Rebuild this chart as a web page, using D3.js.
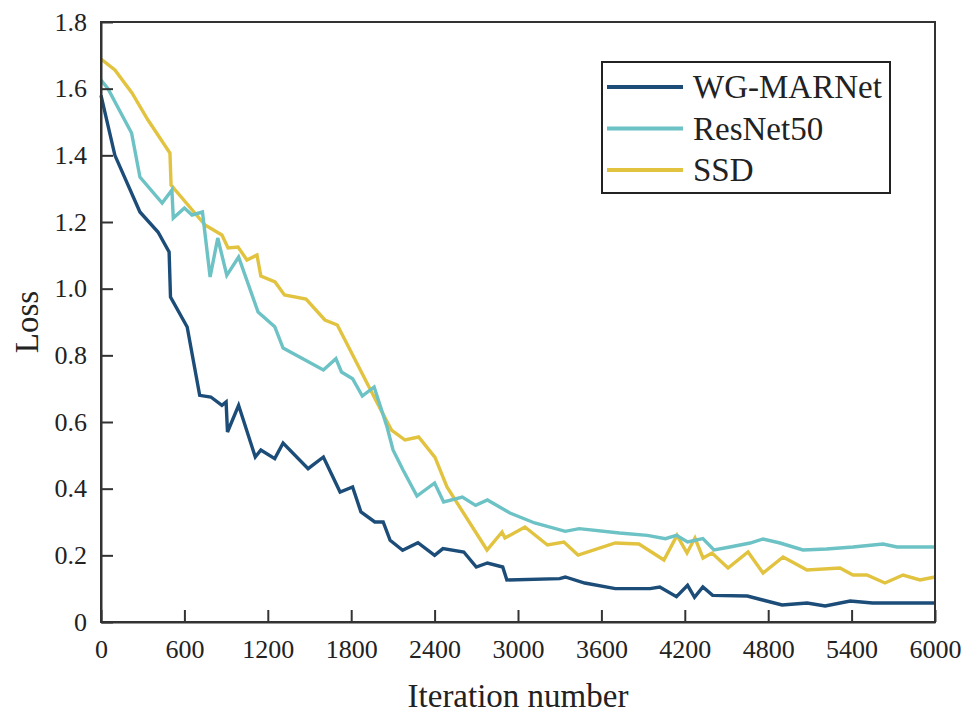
<!DOCTYPE html>
<html>
<head>
<meta charset="utf-8">
<script src="https://cdn.jsdelivr.net/npm/d3@7/dist/d3.min.js"></script>
<style>
  body { margin: 0; background: #fff; }
  text { font-family: "Liberation Serif", "Times New Roman", serif; fill: #222; }
</style>
</head>
<body>
<div id="chart"></div>
<script>
// loss curves
var wgIter = [0, 100, 280, 410, 490, 500, 620, 710, 790, 870, 900, 910, 990, 1110, 1150, 1250, 1310, 1490, 1600, 1720, 1810, 1870, 1970, 2030, 2080, 2170, 2280, 2400, 2460, 2610, 2700, 2780, 2890, 2920, 3300, 3340, 3480, 3700, 3950, 4020, 4140, 4220, 4270, 4330, 4400, 4650, 4760, 4900, 5080, 5210, 5390, 5550, 6000];
var wgLoss = [1.58, 1.40, 1.23, 1.17, 1.11, 0.975, 0.885, 0.68, 0.675, 0.65, 0.66, 0.57, 0.65, 0.495, 0.516, 0.49, 0.537, 0.46, 0.495, 0.39, 0.405, 0.33, 0.30, 0.30, 0.245, 0.215, 0.238, 0.20, 0.22, 0.21, 0.165, 0.177, 0.165, 0.126, 0.13, 0.135, 0.117, 0.10, 0.10, 0.105, 0.076, 0.11, 0.074, 0.105, 0.08, 0.078, 0.066, 0.051, 0.057, 0.048, 0.063, 0.057, 0.057];

var resIter = [0, 50, 120, 220, 280, 440, 510, 520, 600, 655, 730, 785, 840, 905, 990, 1130, 1250, 1310, 1600, 1690, 1730, 1810, 1880, 1965, 2058, 2101, 2173, 2273, 2400, 2465, 2600, 2695, 2780, 2942, 3120, 3340, 3440, 3730, 3930, 4060, 4140, 4220, 4330, 4410, 4525, 4670, 4763, 4885, 5050, 5220, 5410, 5626, 5726, 6000];
var resLoss = [1.626, 1.60, 1.545, 1.467, 1.335, 1.257, 1.296, 1.212, 1.242, 1.221, 1.23, 1.035, 1.152, 1.04, 1.095, 0.93, 0.886, 0.822, 0.756, 0.79, 0.75, 0.73, 0.678, 0.705, 0.585, 0.516, 0.456, 0.378, 0.417, 0.36, 0.375, 0.35, 0.366, 0.327, 0.297, 0.272, 0.28, 0.267, 0.26, 0.25, 0.26, 0.24, 0.25, 0.216, 0.225, 0.237, 0.249, 0.237, 0.216, 0.219, 0.225, 0.234, 0.225, 0.225];

var ssdIter = [0, 100, 223, 338, 496, 504, 626, 748, 870, 914, 986, 1050, 1122, 1150, 1252, 1320, 1475, 1611, 1700, 1770, 1990, 2090, 2187, 2285, 2403, 2489, 2777, 2885, 2906, 3050, 3212, 3330, 3432, 3700, 3870, 4050, 4144, 4216, 4273, 4331, 4396, 4511, 4655, 4763, 4907, 5079, 5316, 5410, 5510, 5640, 5770, 5892, 6000];
var ssdLoss = [1.689, 1.656, 1.587, 1.506, 1.407, 1.311, 1.251, 1.191, 1.161, 1.122, 1.125, 1.086, 1.101, 1.038, 1.02, 0.981, 0.969, 0.906, 0.891, 0.834, 0.655, 0.576, 0.546, 0.555, 0.494, 0.405, 0.216, 0.27, 0.252, 0.285, 0.231, 0.24, 0.201, 0.237, 0.234, 0.186, 0.26, 0.207, 0.252, 0.192, 0.207, 0.162, 0.21, 0.147, 0.195, 0.156, 0.162, 0.141, 0.141, 0.117, 0.141, 0.126, 0.135];

var seriesNames = ["WG-MARNet", "ResNet50", "SSD"];
var seriesColors = ["#1c4c78", "#6cc2c4", "#e2c340"];
var xTicks = [0, 600, 1200, 1800, 2400, 3000, 3600, 4200, 4800, 5400, 6000];
var yTicks = [0, 0.2, 0.4, 0.6, 0.8, 1.0, 1.2, 1.4, 1.6, 1.8];

var width = 979, height = 715;
// plot box edges (not named "top" - that clashes with window.top)
var plotLeft = 101, plotRight = 935, plotTop = 22, plotBottom = 622;

var svg = d3.select("#chart").append("svg")
  .attr("width", width)
  .attr("height", height);

var x = d3.scaleLinear().domain([0, 6000]).range([plotLeft, plotRight]);
var y = d3.scaleLinear().domain([0, 1.8]).range([plotBottom, plotTop]);

var series = [
  {name: seriesNames[0], color: seriesColors[0], pts: d3.zip(wgIter, wgLoss)},
  {name: seriesNames[1], color: seriesColors[1], pts: d3.zip(resIter, resLoss)},
  {name: seriesNames[2], color: seriesColors[2], pts: d3.zip(ssdIter, ssdLoss)}
];

var line = d3.line()
  .x(function(d) { return x(d[0]); })
  .y(function(d) { return y(d[1]); });

// draw lines, SSD under the others like in the figure
svg.selectAll("path.series")
  .data([series[2], series[1], series[0]])
  .enter().append("path")
  .attr("class", "series")
  .attr("d", function(d) { return line(d.pts); })
  .attr("fill", "none")
  .attr("stroke", function(d) { return d.color; })
  .attr("stroke-width", 3.4)
  .attr("stroke-linejoin", "miter");

// frame
svg.append("rect")
  .attr("x", plotLeft).attr("y", plotTop)
  .attr("width", plotRight - plotLeft).attr("height", plotBottom - plotTop)
  .attr("fill", "none")
  .attr("stroke", "#333")
  .attr("stroke-width", 2);

// axes, ticks pointing inward
var xAxis = svg.append("g")
  .attr("transform", "translate(0," + plotBottom + ")")
  .call(d3.axisBottom(x).tickValues(xTicks).tickFormat(d3.format("d")).tickSizeInner(-12).tickSizeOuter(0).tickPadding(18));
xAxis.select(".domain").attr("stroke", "#333").attr("stroke-width", 2);
xAxis.selectAll(".tick line").attr("stroke", "#333").attr("stroke-width", 2);
xAxis.selectAll(".tick text").style("font-size", "26px").attr("fill", "#222")
  .style("font-family", "Liberation Serif, serif");

var yAxis = svg.append("g")
  .attr("transform", "translate(" + plotLeft + ",0)")
  .call(d3.axisLeft(y).tickValues(yTicks).tickFormat(function(d) { return d === 0 ? "0" : d3.format(".1f")(d); })
    .tickSizeInner(-12).tickSizeOuter(0).tickPadding(14));
yAxis.select(".domain").attr("stroke", "#333").attr("stroke-width", 2);
yAxis.selectAll(".tick line").attr("stroke", "#333").attr("stroke-width", 2);
yAxis.selectAll(".tick text").style("font-size", "26px").attr("fill", "#222")
  .style("font-family", "Liberation Serif, serif");

// axis titles
svg.append("text")
  .attr("x", (plotLeft + plotRight) / 2)
  .attr("y", 707)
  .attr("text-anchor", "middle")
  .style("font-size", "33px")
  .text("Iteration number");

svg.append("text")
  .attr("transform", "translate(38," + ((plotTop + plotBottom) / 2) + ") rotate(-90)")
  .attr("text-anchor", "middle")
  .style("font-size", "33px")
  .text("Loss");

// legend
var legend = svg.append("g");
legend.append("rect")
  .attr("x", 602).attr("y", 62)
  .attr("width", 288).attr("height", 131)
  .attr("fill", "#fff")
  .attr("stroke", "#222")
  .attr("stroke-width", 2);

var rows = legend.selectAll("g.row")
  .data(series)
  .enter().append("g")
  .attr("class", "row")
  .attr("transform", function(d, i) { return "translate(0," + (87 + i * 41.5) + ")"; });

rows.append("line")
  .attr("x1", 607).attr("x2", 683)
  .attr("y1", 0).attr("y2", 0)
  .attr("stroke", function(d) { return d.color; })
  .attr("stroke-width", 4);

rows.append("text")
  .attr("x", 693)
  .attr("y", 11)
  .style("font-size", "33px")
  .text(function(d) { return d.name; });
</script>
</body>
</html>
